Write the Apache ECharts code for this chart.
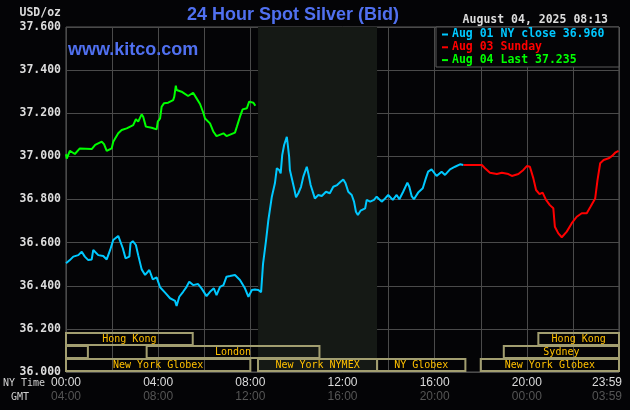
<!DOCTYPE html>
<html>
<head>
<meta charset="utf-8">
<script src="https://cdn.jsdelivr.net/npm/echarts@6/dist/echarts.min.js"></script>
<style>
html, body { margin: 0; padding: 0; background: #040406; }
#chart { width: 630px; height: 410px; }
</style>
</head>
<body>
<div id="chart"></div>
<script>
// times are minutes after 00:00 New York time
var aug01Times = [0, 10, 19, 32, 41, 49, 58, 67, 71, 76, 84, 97, 106, 115, 123, 136, 141, 148, 155, 165, 168, 174, 182, 188, 197, 206, 217, 226, 236, 245, 258, 271, 284, 288, 295, 305, 314, 321, 331, 344, 353, 366, 375, 385, 392, 401, 410, 418, 427, 440, 453, 466, 475, 484, 492, 501, 508, 513, 521, 527, 536, 544, 549, 555, 559, 563, 568, 575, 577, 581, 583, 589, 595, 599, 605, 612, 618, 627, 631, 637, 648, 657, 666, 677, 687, 696, 706, 715, 722, 728, 735, 744, 750, 755, 760, 767, 779, 783, 792, 802, 809, 822, 831, 839, 851, 861, 868, 878, 889, 894, 900, 906, 917, 929, 937, 943, 952, 965, 978, 987, 1000, 1013, 1026, 1035];
var aug01Prices = [36.504, 36.519, 36.535, 36.542, 36.558, 36.535, 36.519, 36.522, 36.566, 36.574, 36.542, 36.538, 36.522, 36.566, 36.612, 36.631, 36.627, 36.574, 36.527, 36.535, 36.597, 36.607, 36.589, 36.542, 36.476, 36.450, 36.473, 36.430, 36.439, 36.393, 36.368, 36.342, 36.330, 36.306, 36.349, 36.372, 36.395, 36.419, 36.403, 36.408, 36.388, 36.352, 36.372, 36.388, 36.357, 36.395, 36.403, 36.442, 36.445, 36.450, 36.427, 36.388, 36.349, 36.380, 36.383, 36.380, 36.370, 36.500, 36.612, 36.705, 36.813, 36.875, 36.945, 36.937, 36.921, 37.006, 37.053, 37.091, 37.061, 36.999, 36.937, 36.890, 36.844, 36.810, 36.829, 36.859, 36.906, 36.952, 36.921, 36.867, 36.805, 36.821, 36.816, 36.836, 36.829, 36.859, 36.867, 36.882, 36.893, 36.875, 36.836, 36.821, 36.790, 36.743, 36.728, 36.748, 36.759, 36.798, 36.790, 36.798, 36.813, 36.790, 36.805, 36.821, 36.798, 36.821, 36.801, 36.836, 36.878, 36.859, 36.816, 36.801, 36.832, 36.852, 36.898, 36.929, 36.940, 36.909, 36.929, 36.914, 36.940, 36.952, 36.963, 36.960];

var aug03Times = [1035, 1083, 1091, 1104, 1122, 1135, 1152, 1161, 1178, 1191, 1200, 1208, 1217, 1224, 1233, 1241, 1250, 1260, 1269, 1273, 1282, 1291, 1304, 1317, 1330, 1343, 1356, 1365, 1378, 1384, 1391, 1400, 1413, 1422, 1430, 1439];
var aug03Prices = [36.960, 36.960, 36.945, 36.924, 36.918, 36.924, 36.918, 36.909, 36.918, 36.937, 36.955, 36.952, 36.898, 36.844, 36.825, 36.832, 36.798, 36.774, 36.759, 36.674, 36.643, 36.625, 36.651, 36.690, 36.720, 36.736, 36.736, 36.764, 36.805, 36.890, 36.968, 36.983, 36.991, 37.002, 37.017, 37.026];

var aug04Times = [0, 2, 10, 23, 36, 67, 76, 93, 99, 106, 119, 123, 136, 145, 158, 175, 182, 188, 197, 201, 208, 223, 236, 239, 245, 249, 255, 266, 279, 282, 286, 288, 301, 318, 331, 340, 349, 358, 362, 375, 384, 392, 410, 418, 440, 445, 453, 460, 471, 477, 488, 493];
var aug04Prices = [37.010, 36.990, 37.026, 37.011, 37.037, 37.034, 37.053, 37.068, 37.057, 37.025, 37.037, 37.068, 37.107, 37.122, 37.130, 37.145, 37.172, 37.161, 37.195, 37.184, 37.138, 37.133, 37.125, 37.161, 37.176, 37.230, 37.246, 37.249, 37.261, 37.277, 37.328, 37.308, 37.300, 37.280, 37.295, 37.269, 37.243, 37.200, 37.176, 37.153, 37.114, 37.094, 37.107, 37.094, 37.110, 37.138, 37.184, 37.218, 37.223, 37.254, 37.249, 37.235];

// trading sessions, row 0 is the top row
var sessionNames = ['Hong Kong', 'Hong Kong', '', 'London', 'Sydney', 'New York Globex', 'New York NYMEX', 'NY Globex', 'New York Globex'];
var sessionStart = [0, 1230, 0, 210, 1140, 0, 500, 810, 1080];
var sessionEnd = [330, 1440, 57, 660, 1440, 480, 810, 1040, 1440];
var sessionRow = [0, 0, 1, 1, 1, 2, 2, 2, 2];

// NYMEX floor hours, shaded
var nymexOpen = 500;
var nymexClose = 810;

var nyTickLabels = ['00:00', '04:00', '08:00', '12:00', '16:00', '20:00', '23:59'];
var gmtTickLabels = ['04:00', '08:00', '12:00', '16:00', '20:00', '00:00', '03:59'];

var legendLabels = ['Aug 01 NY close 36.960', 'Aug 03 Sunday', 'Aug 04 Last 37.235'];
var lineColors = ['#00c8ff', '#ff0000', '#00ff00'];

var monoBold = 'bold 11.5px "DejaVu Sans Mono"';

function pairs(t, p) {
	return t.map(function (v, i) { return [v, p[i]]; });
}

//
function renderSession(params, api) {
	var i = params.dataIndex;
	var x0 = api.coord([api.value(0), 36])[0];
	var x1 = api.coord([api.value(1), 36])[0];
	var bottom = api.coord([0, 36])[1];
	var top = bottom - (3 - api.value(2)) * 13;
	return {
		type: 'group',
		children: [{
			type: 'rect',
			shape: { x: x0, y: top, width: x1 - x0, height: 12 },
			style: { fill: 'none', stroke: '#a29e70', lineWidth: 2 }
		}, {
			type: 'text',
			style: {
				text: sessionNames[i],
				x: (x0 + x1) / 2,
				y: top + 6.5,
				align: 'center',
				verticalAlign: 'middle',
				fill: '#ffc000',
				font: '10px "DejaVu Sans Mono"'
			}
		}]
	};
}

var chart = echarts.init(document.getElementById('chart'));

var legendGraphics = [{
	type: 'rect',
	shape: { x: 436, y: 27, width: 183, height: 40 },
	style: { fill: '#040406', stroke: '#5a5a5a', lineWidth: 1 },
	z: 100
}];
legendLabels.forEach(function (txt, i) {
	legendGraphics.push({
		type: 'rect',
		shape: { x: 442, y: 33.5 + i * 12.8, width: 6, height: 2 },
		style: { fill: lineColors[i] },
		z: 101
	});
	legendGraphics.push({
		type: 'text',
		x: 452,
		y: 34.5 + i * 12.8,
		style: { text: txt, fill: lineColors[i], font: monoBold, verticalAlign: 'middle' },
		z: 101
	});
});

var option = {
	backgroundColor: '#040406',
	animation: false,
	grid: {
		left: 66, right: 11, top: 27, bottom: 38,
		containLabel: false,
		outerBoundsMode: 'none',
		show: true, borderColor: '#5a5a5a', borderWidth: 1
	},
	xAxis: {
		type: 'value',
		min: 0, max: 1440, interval: 120,
		axisLine: { show: false },
		axisTick: { show: false },
		splitLine: { show: true, lineStyle: { color: '#4a4a4a', width: 1 } },
		axisLabel: {
			margin: 4,
			showMinLabel: true,
			showMaxLabel: true,
			formatter: function (v) {
				if (v % 240 !== 0) return '';
				var k = v / 240;
				var tag = k === 6 ? 'Last' : '';
				return '{ny' + tag + '|' + nyTickLabels[k] + '}\n{gmt' + tag + '|' + gmtTickLabels[k] + '}';
			},
			rich: {
				ny: { color: '#dcdcdc', font: monoBold, lineHeight: 14 },
				gmt: { color: '#555555', font: monoBold, lineHeight: 14 },
				nyLast: { color: '#dcdcdc', font: monoBold, lineHeight: 14, padding: [0, 24, 0, 0] },
				gmtLast: { color: '#555555', font: monoBold, lineHeight: 14, padding: [0, 24, 0, 0] }
			}
		}
	},
	yAxis: {
		type: 'value',
		min: 36, max: 37.6, interval: 0.2,
		axisLine: { show: false },
		axisTick: { show: false },
		splitLine: { show: true, lineStyle: { color: '#4a4a4a', width: 1 } },
		axisLabel: {
			margin: 5,
			color: '#dcdcdc',
			fontFamily: 'DejaVu Sans Mono',
			fontWeight: 'bold',
			fontSize: 11.5,
			formatter: function (v) { return v.toFixed(3); }
		}
	},
	graphic: [{
		type: 'text', x: 293, y: 15.5,
		style: { text: '24 Hour Spot Silver (Bid)', fill: '#5070f0', font: 'bold 18px "Liberation Sans"', align: 'center', verticalAlign: 'middle' }
	}, {
		type: 'text', x: 68, y: 50, z: 50,
		style: { text: 'www.kitco.com', fill: '#5070f0', font: 'bold 18px "Liberation Sans"', verticalAlign: 'middle' }
	}, {
		type: 'text', x: 608, y: 20,
		style: { text: 'August 04, 2025 08:13', fill: '#dcdcdc', font: monoBold, align: 'right', verticalAlign: 'middle' }
	}, {
		type: 'text', x: 61, y: 13,
		style: { text: 'USD/oz', fill: '#dcdcdc', font: monoBold, align: 'right', verticalAlign: 'middle' }
	}, {
		type: 'text', x: 3, y: 383,
		style: { text: 'NY Time', fill: '#d0d0d0', font: '10px "DejaVu Sans Mono"', verticalAlign: 'middle' }
	}, {
		type: 'text', x: 11, y: 397,
		style: { text: 'GMT', fill: '#d0d0d0', font: '10px "DejaVu Sans Mono"', verticalAlign: 'middle' }
	}].concat(legendGraphics),
	series: [{
		// shaded NYMEX hours
		type: 'line',
		data: [],
		z: -1,
		markArea: {
			silent: true,
			itemStyle: { color: '#151915' },
			data: [[{ xAxis: nymexOpen }, { xAxis: nymexClose }]]
		}
	}, {
		type: 'custom',
		renderItem: renderSession,
		encode: { x: [0, 1], y: 2 },
		data: sessionStart.map(function (s, i) { return [s, sessionEnd[i], sessionRow[i]]; }),
		z: 3
	}, {
		name: legendLabels[0],
		type: 'line',
		data: pairs(aug01Times, aug01Prices),
		showSymbol: false,
		lineStyle: { color: lineColors[0], width: 2 },
		z: 5
	}, {
		name: legendLabels[1],
		type: 'line',
		data: pairs(aug03Times, aug03Prices),
		showSymbol: false,
		lineStyle: { color: lineColors[1], width: 2 },
		z: 5
	}, {
		name: legendLabels[2],
		type: 'line',
		data: pairs(aug04Times, aug04Prices),
		showSymbol: false,
		lineStyle: { color: lineColors[2], width: 2 },
		z: 6
	}]
};

chart.setOption(option);
</script>
</body>
</html>
